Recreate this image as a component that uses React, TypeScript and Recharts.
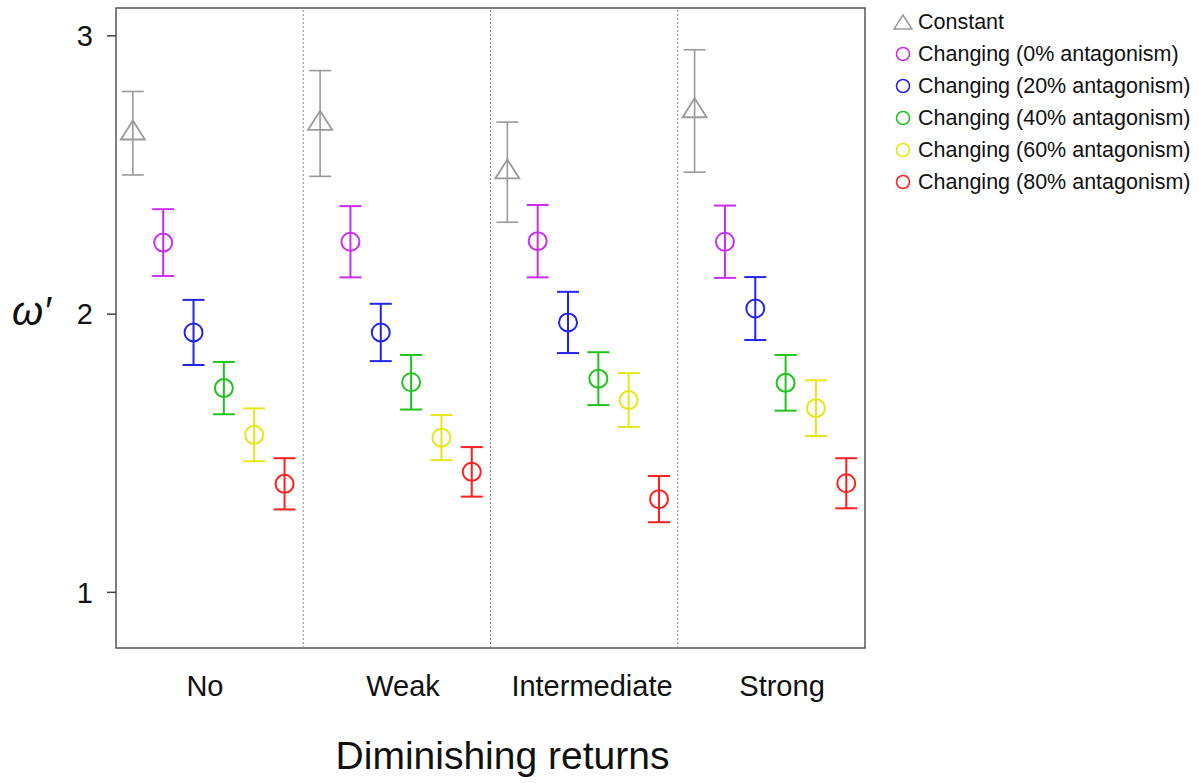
import {
  ErrorBar,
  Label,
  ReferenceArea,
  ReferenceLine,
  Scatter,
  ScatterChart,
  XAxis,
  YAxis
} from "recharts";

const GROUPS = ["No", "Weak", "Intermediate", "Strong"];
const X_TICKS = [0.475, 1.533, 2.542, 3.557];
const Y_TICKS = [1, 2, 3];

const SERIES_NAMES = [
  "Constant",
  "Changing (0% antagonism)",
  "Changing (20% antagonism)",
  "Changing (40% antagonism)",
  "Changing (60% antagonism)",
  "Changing (80% antagonism)"
];

const CONSTANT_MEAN = [2.65, 2.685, 2.51, 2.73];
const CONSTANT_ERR = [0.15, 0.19, 0.18, 0.22];
const ANT0_MEAN = [2.257, 2.26, 2.262, 2.26];
const ANT0_ERR = [0.12, 0.128, 0.13, 0.13];
const ANT20_MEAN = [1.934, 1.934, 1.97, 2.02];
const ANT20_ERR = [0.117, 0.103, 0.11, 0.113];
const ANT40_MEAN = [1.734, 1.755, 1.768, 1.753];
const ANT40_ERR = [0.094, 0.098, 0.095, 0.1];
const ANT60_MEAN = [1.566, 1.556, 1.691, 1.662];
const ANT60_ERR = [0.095, 0.081, 0.097, 0.1];
const ANT80_MEAN = [1.39, 1.433, 1.335, 1.392];
const ANT80_ERR = [0.092, 0.089, 0.083, 0.09];

const MEANS = [CONSTANT_MEAN, ANT0_MEAN, ANT20_MEAN, ANT40_MEAN, ANT60_MEAN, ANT80_MEAN];
const ERRS = [CONSTANT_ERR, ANT0_ERR, ANT20_ERR, ANT40_ERR, ANT60_ERR, ANT80_ERR];

const COLORS = ["#9a9a9a", "#cc2df5", "#2424ea", "#1fc41f", "#e6e61a", "#ff2020"];
const FONT = '"Liberation Sans", Arial, Helvetica, sans-serif';

// horizontal dodge of each series inside its group
const dodge = (i: number) => 0.09 + i * 0.162;

const series = SERIES_NAMES.map((name, i) => ({
  name,
  color: COLORS[i],
  triangle: i === 0,
  data: MEANS[i].map((y, g) => ({ x: g + dodge(i), y, err: ERRS[i][g] }))
}));

function marker(color: string, triangle: boolean) {
  return (p: any) => {
    const { cx, cy } = p;
    if (triangle) {
      const pts = `${cx},${cy - 12.7} ${cx - 12},${cy + 6.3} ${cx + 12},${cy + 6.3}`;
      return <polygon points={pts} fill="none" stroke={color} strokeWidth={1.8} />;
    }
    return <circle cx={cx} cy={cy} r={9} fill="none" stroke={color} strokeWidth={2} />;
  };
}

function LegendBox() {
  return (
    <div
      style={{
        position: "absolute",
        left: 893,
        top: 6,
        fontFamily: FONT,
        fontSize: 21.5,
        color: "#111"
      }}
    >
      {series.map((s) => (
        <div key={s.name} style={{ display: "flex", alignItems: "center", height: 32 }}>
          <svg width={20} height={20} style={{ marginRight: 5 }}>
            {s.triangle ? (
              <polygon points="10,3 1,17 19,17" fill="none" stroke={s.color} strokeWidth={1.5} />
            ) : (
              <circle cx={10} cy={10} r={6.5} fill="none" stroke={s.color} strokeWidth={1.6} />
            )}
          </svg>
          <span style={{ whiteSpace: "nowrap" }}>{s.name}</span>
        </div>
      ))}
    </div>
  );
}

export default function App() {
  return (
    <div style={{ position: "absolute", left: 0, top: 0, width: 1199, height: 783, background: "#fff" }}>
      <ScatterChart
        width={1199}
        height={783}
        margin={{ top: 8, right: 334, bottom: 0, left: 0 }}
        style={{ fontFamily: FONT }}
      >
        <XAxis
          type="number"
          dataKey="x"
          domain={[0, 4]}
          ticks={X_TICKS}
          interval={0}
          tickFormatter={(v: number) => GROUPS[Math.floor(v)]}
          tickLine={false}
          axisLine={false}
          tickSize={0}
          tickMargin={27}
          height={135}
          allowDataOverflow
          tick={{ fill: "#111", fontSize: 29, fontFamily: FONT }}
        >
          <Label
            value="Diminishing returns"
            position="insideBottom"
            offset={14}
            dx={12}
            style={{ fill: "#111", fontSize: 39, fontFamily: FONT }}
          />
        </XAxis>
        <YAxis
          type="number"
          dataKey="y"
          domain={[0.8, 3.1]}
          ticks={Y_TICKS}
          width={116}
          axisLine={false}
          tickLine={{ stroke: "#444", strokeWidth: 1.5 }}
          tickSize={9}
          tickMargin={14}
          allowDataOverflow
          tick={{ fill: "#111", fontSize: 29, fontFamily: FONT }}
        >
          <Label
            value="ω′"
            position="insideLeft"
            offset={12}
            dy={-17}
            style={{ fill: "#111", fontSize: 40, fontStyle: "italic", fontFamily: FONT }}
          />
        </YAxis>

        {[1, 2, 3].map((x) => (
          <ReferenceLine key={x} x={x} stroke="#8a8a8a" strokeWidth={1} strokeDasharray="2 2" />
        ))}

        {series.map((s) => (
          <Scatter
            key={s.name}
            name={s.name}
            data={s.data}
            fill="none"
            shape={marker(s.color, s.triangle)}
            isAnimationActive={false}
          >
            <ErrorBar
              dataKey="err"
              direction="y"
              width={11}
              stroke={s.color}
              strokeWidth={s.triangle ? 1.6 : 2}
              isAnimationActive={false}
            />
          </Scatter>
        ))}

        <ReferenceArea x1={0} x2={4} y1={0.8} y2={3.1} fill="none" stroke="#555" strokeWidth={1.5} />
      </ScatterChart>
      <LegendBox />
    </div>
  );
}
